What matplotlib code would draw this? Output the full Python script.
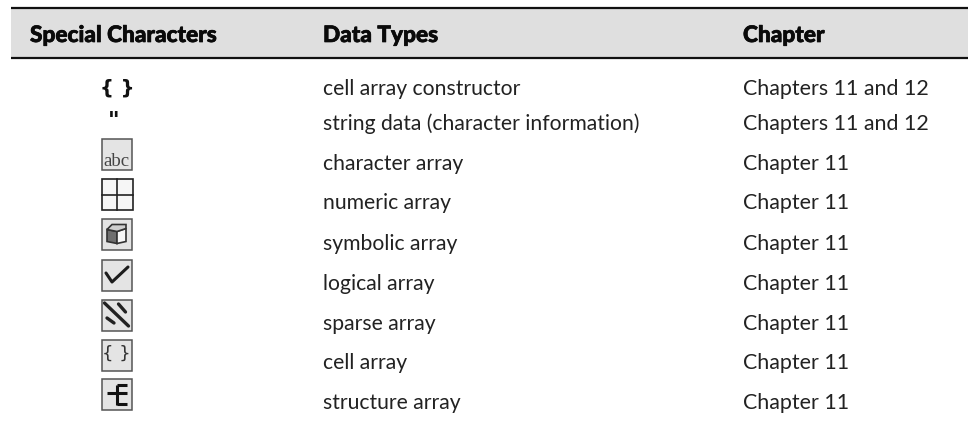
import matplotlib
matplotlib.use("Agg")
import matplotlib.pyplot as plt
import matplotlib.patheffects as pe
from matplotlib.patches import Rectangle, Polygon

W, H = 968, 422
headers = ["Special Characters", "Data Types", "Chapter"]
symbols = ["{ }", '"', "abc", "grid", "cube", "check", "sparse", "braces", "struct"]
data_types = ["cell array constructor", "string data (character information)",
              "character array", "numeric array", "symbolic array", "logical array",
              "sparse array", "cell array", "structure array"]
chapters = ["Chapters 11 and 12", "Chapters 11 and 12", "Chapter 11", "Chapter 11",
            "Chapter 11", "Chapter 11", "Chapter 11", "Chapter 11", "Chapter 11"]
baselines = [95, 130, 170, 209, 250, 290, 330, 369, 409]
icon_y = [88, 116, 154.5, 194.5, 234.5, 275, 315, 355, 394.5]

FONT = "Lato"
INK = "#222222"
fig = plt.figure(figsize=(W / 100, H / 100), dpi=100, facecolor="white")
ax = fig.add_axes([0, 0, 1, 1])
ax.set_xlim(0, W)
ax.set_ylim(H, 0)
ax.axis("off")

# header band
ax.add_patch(Rectangle((11, 9), W - 11, 48, fc="#dfdfdf", ec="none"))
ax.plot([11, W], [8, 8], color="#111111", lw=1.6, solid_capstyle="butt")
ax.plot([11, W], [58, 58], color="#111111", lw=1.6, solid_capstyle="butt")
heavy = [pe.withStroke(linewidth=0.5, foreground="#0a0a0a")]
for h, x in zip(headers, [30, 323, 743]):
    ax.text(x, 42, h, family=FONT, weight="black", fontsize=16.3, color="#0a0a0a",
            va="baseline", ha="left", path_effects=heavy)

# text columns
for y, d, c in zip(baselines, data_types, chapters):
    ax.text(323, y, d, family=FONT, fontsize=15.2, color=INK, va="baseline", ha="left")
    ax.text(743, y, c, family=FONT, fontsize=15.4, color=INK, va="baseline", ha="left")

ax.text(117, icon_y[0], symbols[0], family="DejaVu Sans", weight="bold", fontsize=14,
        color="#111111", va="center", ha="center")
ax.text(114, icon_y[1] + 5, symbols[1], family="DejaVu Sans", weight="bold", fontsize=16,
        color="#111111", va="center", ha="center")


def box(y, fc="#e4e4e4", ec="#555555"):
    ax.add_patch(Rectangle((101.5, y - 15.5), 30.5, 31, fc=fc, ec=ec, lw=1.1))


def seg(xs, ys, y, lw=2.0, color="#222222", cap="round"):
    ax.plot([116.5 + v for v in xs], [y + v for v in ys], color=color, lw=lw,
            solid_capstyle=cap)


# abc
box(icon_y[2])
ax.text(116.5, icon_y[2] + 12, "abc", family="Liberation Serif", fontsize=13.5,
        color="#444444", va="baseline", ha="center")

# numeric grid
y = icon_y[3]
ax.add_patch(Rectangle((101.5, y - 15.5), 31, 31, fc="#f6f6f6", ec="#222222", lw=1.2))
ax.plot([117, 117], [y - 15.5, y + 15.5], color="#222222", lw=1.2)
ax.plot([101.5, 132.5], [y, y], color="#222222", lw=1.2)

# cube
y = icon_y[4]
box(y)
ax.add_patch(Polygon([(107, y - 5), (117, y - 3), (117, y + 9), (107, y + 7)],
                     closed=True, fc="#6e6e6e", ec="#333333", lw=1.2))
ax.add_patch(Polygon([(117, y - 3), (126, y - 6), (126, y + 7), (117, y + 9)],
                     closed=True, fc="#f7f7f7", ec="#333333", lw=1.2))
ax.add_patch(Polygon([(107, y - 5), (112, y - 10), (126, y - 10), (126, y - 6), (117, y - 3)],
                     closed=True, fc="#cfcfcf", ec="#333333", lw=1.2))

# check
y = icon_y[5]
box(y)
seg([-10.5, -4.5, 11.5], [-2, 7, -8], y, lw=2.2, color="#1c1c1c")

# sparse
y = icon_y[6]
box(y)
seg([-12, 12], [-12, 11], y, lw=2.4)
seg([2, 9], [-11, -3], y, lw=2.4)
seg([-9.5, -2.5], [3, 8], y, lw=2.4)

# cell braces
y = icon_y[7]
box(y)
ax.text(116.5, y - 1, "{ }", family="DejaVu Sans", fontsize=13, color="#333333",
        va="center", ha="center")

# structure
y = icon_y[8]
box(y)
seg([-10, 0], [-1.5, -1.5], y, lw=2.2, color="#111111", cap="butt")
seg([0, 0], [-10, 10], y, lw=2.2, color="#111111", cap="butt")
for dy in (-10, -1.5, 9.5):
    seg([0, 10.5], [dy, dy], y, lw=2.2, color="#111111", cap="butt")

fig.savefig("out.png", dpi=100, facecolor="white")
